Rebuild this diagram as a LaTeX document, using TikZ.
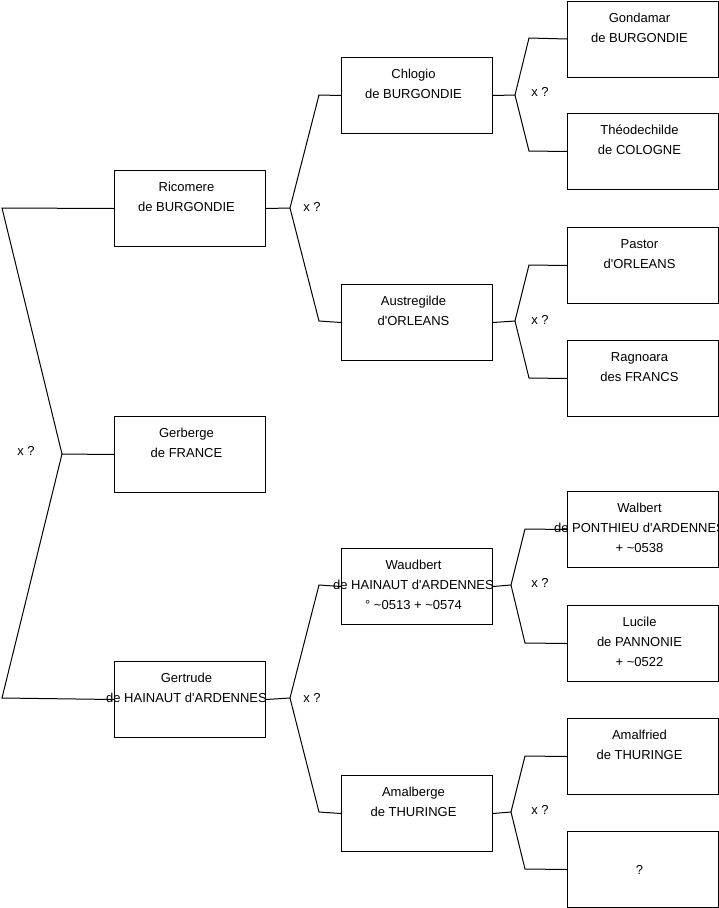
\documentclass[tikz,border=0pt]{standalone}
\usepackage{fontspec}
\setmainfont{Liberation Sans}
\usetikzlibrary{calc}
\tikzset{
  pbox/.style={draw, line width=1pt, minimum width=151pt, minimum height=76pt, inner sep=0pt, anchor=north west},
  ptext/.style={anchor=north, inner sep=0pt, align=center, font=\fontsize{13}{20}\selectfont},
  xq/.style={inner sep=0pt, font=\fontsize{13}{16}\selectfont},
  link/.style={line width=1pt, line join=miter}
}
\newcommand\pers[4]{\node[pbox] (#1) at (#2,#3) {}; \node[ptext] (#1t) at ($(#1.north)+(-3.5,12)$) {#4};}
\newcommand\aq{\textquotesingle}
\newcommand\tl{\textasciitilde}
\begin{document}
\begin{tikzpicture}[x=1pt,y=-1pt]
\useasboundingbox (0,0) rectangle (719,908);
% left column
\pers{ric}{114}{170}{Ricomere\\de BURGONDIE}
\pers{ger}{114}{416}{Gerberge\\de FRANCE}
\pers{gert}{114}{661}{Gertrude\\de HAINAUT d\aq ARDENNES}
% middle column
\pers{chl}{341}{57}{Chlogio\\de BURGONDIE}
\pers{aus}{341}{284}{Austregilde\\d\aq ORLEANS}
\pers{wau}{341}{548}{Waudbert\\de HAINAUT d\aq ARDENNES\\° \tl 0513 + \tl 0574}
\pers{ama}{341}{775}{Amalberge\\de THURINGE}
% right column
\pers{gon}{567}{0.5}{Gondamar\\de BURGONDIE}
\pers{the}{567}{113}{Théodechilde\\de COLOGNE}
\pers{pas}{567}{227}{Pastor\\d\aq ORLEANS}
\pers{rag}{567}{340}{Ragnoara\\des FRANCS}
\pers{wal}{567}{491}{Walbert\\de PONTHIEU d\aq ARDENNES\\+ \tl 0538}
\pers{luc}{567}{605}{Lucile\\de PANNONIE\\+ \tl 0522}
\pers{alf}{567}{718}{Amalfried\\de THURINGE}
\node[pbox] (unk) at (567,831) {};
\node[xq] (unkt) at ($(unk.center)+(-3.5,0)$) {?};
% fork coordinates
\coordinate (m) at (62,454);   \coordinate (m1) at (2,208);   \coordinate (m2) at (2,698);
\coordinate (r) at (290,208);  \coordinate (r1) at (319,95);  \coordinate (r2) at (319,321);
\coordinate (g) at (290,698);  \coordinate (g1) at (319,585); \coordinate (g2) at (319,812);
\coordinate (c) at (515,95);   \coordinate (c1) at (529,38);  \coordinate (c2) at (529,151);
\coordinate (a) at (515,321);  \coordinate (a1) at (529,265); \coordinate (a2) at (529,378);
\coordinate (w) at (511,585);  \coordinate (w1) at (525,529); \coordinate (w2) at (525,643);
\coordinate (b) at (511,812);  \coordinate (b1) at (525,756); \coordinate (b2) at (525,869);
% connectors
\draw[link] (ric.west) -- (m1) -- (m) -- (m2) -- (gert.west);
\draw[link] (m) -- (ger.west);
\draw[link] (chl.west) -- (r1) -- (r) -- (r2) -- (aus.west);
\draw[link] (r) -- (ric.east);
\draw[link] (wau.west) -- (g1) -- (g) -- (g2) -- (ama.west);
\draw[link] (g) -- (gert.east);
\draw[link] (gon.west) -- (c1) -- (c) -- (c2) -- (the.west);
\draw[link] (c) -- (chl.east);
\draw[link] (pas.west) -- (a1) -- (a) -- (a2) -- (rag.west);
\draw[link] (a) -- (aus.east);
\draw[link] (wal.west) -- (w1) -- (w) -- (w2) -- (luc.west);
\draw[link] (w) -- (wau.east);
\draw[link] (alf.west) -- (b1) -- (b) -- (b2) -- (unk.west);
\draw[link] (b) -- (ama.east);
% marriage labels
\node[xq] (xm) at (26,451) {x ?};
\node[xq] (xr) at (312,207) {x ?};
\node[xq] (xg) at (312,698) {x ?};
\node[xq] (xc) at (540,92) {x ?};
\node[xq] (xa) at (540,320) {x ?};
\node[xq] (xw) at (540,583) {x ?};
\node[xq] (xb) at (540,810) {x ?};
\end{tikzpicture}
\end{document}
